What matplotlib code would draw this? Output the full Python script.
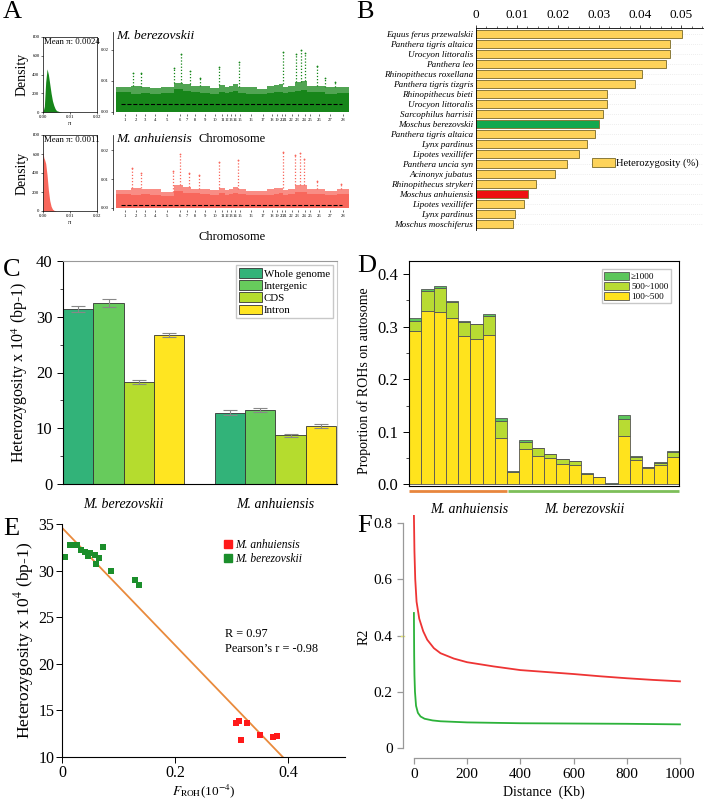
import matplotlib
matplotlib.use('Agg')
import matplotlib.pyplot as plt
from matplotlib.patches import Patch
from matplotlib.lines import Line2D
from matplotlib.ticker import MultipleLocator

plt.rcParams['font.family'] = ['Liberation Serif', 'DejaVu Serif']
plt.rcParams['mathtext.fontset'] = 'stix'

# ---------------- data ----------------
# A: nucleotide diversity density (pi, density)
dens_ber_x = [0.0, 0.0005, 0.001, 0.0015, 0.002, 0.0025, 0.003, 0.0035, 0.004, 0.0045, 0.005, 0.006, 0.007]
dens_ber_y = [0, 60, 320, 460, 400, 300, 200, 120, 70, 35, 15, 5, 0]
dens_anh_x = [0.0, 0.0003, 0.0006, 0.001, 0.0015, 0.002, 0.0025, 0.003, 0.0035, 0.004, 0.005]
dens_anh_y = [620, 560, 540, 500, 380, 220, 110, 50, 20, 8, 0]
mean_pi_ber = 0.0024
mean_pi_anh = 0.0011

# A: chromosome midpoints along the genome (Mb) and window pi
chrom_labels = [str(i) for i in range(1, 29)]
chrom_mid = [99, 231, 330, 440, 572, 715, 792, 880, 990, 1100, 1188, 1243, 1287, 1331,
             1386, 1507, 1639, 1738, 1793, 1848, 1881, 1958, 2024, 2101, 2167, 2266, 2387, 2530]
genome_end = 2596
ber_band = [0.0062, 0.0058, 0.0060, 0.0057, 0.0060, 0.0072, 0.0065, 0.0062, 0.0060, 0.0058,
            0.0064, 0.0060, 0.0062, 0.0066, 0.0060, 0.0058, 0.0057, 0.0060, 0.0062, 0.0064,
            0.0060, 0.0062, 0.0068, 0.0070, 0.0062, 0.0062, 0.0058, 0.0060]
ber_upper = [0.0078, 0.0082, 0.0080, 0.0075, 0.0078, 0.0092, 0.0088, 0.0084, 0.0082, 0.0076,
             0.0086, 0.0080, 0.0082, 0.0088, 0.0080, 0.0078, 0.0074, 0.0082, 0.0086, 0.0088,
             0.0080, 0.0084, 0.0095, 0.0098, 0.0084, 0.0084, 0.0078, 0.0080]
anh_band = [0.0048, 0.0046, 0.0047, 0.0045, 0.0040, 0.0058, 0.0052, 0.0050, 0.0048, 0.0046,
            0.0050, 0.0046, 0.0048, 0.0052, 0.0047, 0.0045, 0.0044, 0.0046, 0.0048, 0.0050,
            0.0046, 0.0048, 0.0055, 0.0056, 0.0048, 0.0047, 0.0045, 0.0048]
anh_upper = [0.0062, 0.0068, 0.0064, 0.0066, 0.0055, 0.0078, 0.0072, 0.0066, 0.0064, 0.0062,
             0.0070, 0.0062, 0.0064, 0.0072, 0.0066, 0.0060, 0.0060, 0.0064, 0.0068, 0.0070,
             0.0062, 0.0066, 0.0078, 0.0080, 0.0066, 0.0064, 0.0060, 0.0064]
ber_peak_pos = [187, 286, 649, 726, 825, 935, 1144, 1375, 1859, 2002, 2057, 2101, 2244, 2332, 2442]
ber_peak_val = [0.0124, 0.0124, 0.0140, 0.0187, 0.0130, 0.0110, 0.0146, 0.0160, 0.0193,
                0.0187, 0.0198, 0.0190, 0.0149, 0.0110, 0.0097]
anh_peak_pos = [176, 278, 638, 718, 814, 932, 1144, 1364, 1859, 1991, 2046, 2090, 2244, 2508]
anh_peak_val = [0.0138, 0.0123, 0.0129, 0.0186, 0.0123, 0.0114, 0.0158, 0.0166, 0.0194,
                0.0183, 0.0192, 0.0169, 0.0095, 0.0083]

# B: genome-wide heterozygosity (%)
b_species = ['Equus ferus przewalskii', 'Panthera tigris altaica', 'Urocyon littoralis',
             'Panthera leo', 'Rhinopithecus roxellana', 'Panthera tigris tizgris',
             'Rhinopithecus bieti', 'Urocyon littoralis', 'Sarcophilus harrisii',
             'Moschus berezovskii', 'Panthera tigris altaica', 'Lynx pardinus',
             'Lipotes vexillifer', 'Panthera uncia syn', 'Acinonyx jubatus',
             'Rhinopithecus strykeri', 'Moschus anhuiensis', 'Lipotes vexillifer',
             'Lynx pardinus', 'Moschus moschiferus']
b_het = [0.0502, 0.0473, 0.0473, 0.0464, 0.0405, 0.0387, 0.0319, 0.0319, 0.0310, 0.0300,
         0.0290, 0.0271, 0.0251, 0.0222, 0.0193, 0.0145, 0.0127, 0.0116, 0.0096, 0.0089]

# C: heterozygosity by region
c_groups = ['M. berezovskii', 'M. anhuiensis']
c_regions = ['Whole genome', 'Intergenic', 'CDS', 'Intron']
c_ber = [31.4, 32.4, 18.3, 26.7]
c_ber_err = [0.6, 0.7, 0.4, 0.4]
c_anh = [12.8, 13.3, 8.7, 10.4]
c_anh_err = [0.4, 0.4, 0.2, 0.4]

# D: proportion of ROHs by length class (kb) per individual
d_labels = ['100~500', '500~1000', '\u22651000']
d_short = [0.292, 0.330, 0.328, 0.317, 0.282, 0.277, 0.285, 0.089, 0.024, 0.068, 0.055,
           0.051, 0.039, 0.037, 0.020, 0.014, 0.001, 0.093, 0.047, 0.031, 0.036, 0.052]
d_mid = [0.019, 0.038, 0.046, 0.030, 0.027, 0.028, 0.036, 0.032, 0.000, 0.013, 0.014,
         0.006, 0.009, 0.007, 0.000, 0.000, 0.000, 0.032, 0.006, 0.002, 0.005, 0.010]
d_long = [0.005, 0.003, 0.004, 0.002, 0.002, 0.001, 0.004, 0.006, 0.001, 0.003, 0.001,
          0.001, 0.001, 0.001, 0.001, 0.001, 0.0015, 0.008, 0.002, 0.001, 0.001, 0.001]
d_n_anh = 8

# E: FROH vs heterozygosity
e_ber_x = [0.005, 0.015, 0.021, 0.027, 0.034, 0.040, 0.046, 0.050, 0.058, 0.060, 0.066, 0.073, 0.086, 0.129, 0.136]
e_ber_y = [31.5, 32.7, 32.8, 32.8, 32.2, 32.0, 31.6, 31.9, 31.7, 30.7, 31.4, 32.5, 30.0, 29.0, 28.5]
e_anh_x = [0.308, 0.312, 0.316, 0.327, 0.350, 0.372, 0.379]
e_anh_y = [13.6, 13.9, 11.8, 13.7, 12.4, 12.1, 12.3]
e_fit_x = [0.0, 0.39]
e_fit_y = [34.6, 10.0]

# F: LD decay
f_anh_kb = [0, 2, 5, 10, 20, 35, 50, 75, 100, 150, 200, 300, 400, 500, 600, 700, 800, 900, 1000]
f_anh_r2 = [0.83, 0.70, 0.60, 0.52, 0.46, 0.415, 0.385, 0.355, 0.337, 0.318, 0.305, 0.29,
            0.277, 0.27, 0.263, 0.255, 0.248, 0.242, 0.237]
f_ber_kb = [0, 1, 2, 4, 8, 15, 25, 40, 70, 100, 200, 400, 600, 800, 1000]
f_ber_r2 = [0.48, 0.33, 0.26, 0.20, 0.15, 0.125, 0.112, 0.104, 0.098, 0.095, 0.091, 0.088,
            0.087, 0.086, 0.084]

# ---------------- figure ----------------
W, H = 709, 802
fig = plt.figure(figsize=(W / 100, H / 100), dpi=100)


def box(x0, y0, x1, y1):
    return [x0 / W, 1 - y1 / H, (x1 - x0) / W, (y1 - y0) / H]


def panel_label(letter, x, y):
    fig.text(x / W, 1 - y / H, letter, fontsize=19, va='center', ha='left')


GREEN_A = '#17861a'
RED_A = '#f8675c'

# ---- A: density plots ----
for (dx, dy, col, mpi, y0, y1) in [(dens_ber_x, dens_ber_y, GREEN_A, mean_pi_ber, 37, 112),
                                   (dens_anh_x, dens_anh_y, RED_A, mean_pi_anh, 135, 211)]:
    ax = fig.add_axes(box(43, y0, 97, y1))
    ax.fill_between(dx, dy, color=col, lw=0)
    ax.set_xlim(0, 0.02)
    ax.set_ylim(0, 800)
    ax.set_xticks([0, 0.01, 0.02])
    ax.set_xticklabels(['0.00', '0.01', '0.02'])
    ax.set_yticks([0, 200, 400, 600, 800])
    ax.tick_params(labelsize=3.5, length=1.5, width=0.4, pad=1)
    for s in ax.spines.values():
        s.set_linewidth(0.5)
    ax.set_xlabel('\u03c0', fontsize=4.5, labelpad=1)
    ax.set_ylabel('Density', fontsize=10, labelpad=3)
    ax.text(0.02, 0.985, 'Mean \u03c0: %.4f' % mpi, transform=ax.transAxes,
            fontsize=6.3, va='top', ha='left')

# ---- A: manhattan-like plots ----
edges = [0] + [(chrom_mid[i] + chrom_mid[i + 1]) / 2 for i in range(len(chrom_mid) - 1)] + [genome_end]
widths = [edges[i + 1] - edges[i] for i in range(len(chrom_mid))]


def band_at(pos, band):
    for i in range(len(chrom_mid)):
        if edges[i] <= pos < edges[i + 1]:
            return band[i]
    return band[-1]


for (band, upper, ppos, pval, col, mpi, y0, y1, title, yl) in [
        (ber_band, ber_upper, ber_peak_pos, ber_peak_val, GREEN_A, mean_pi_ber, 32, 114,
         'M. berezovskii', 0.0258),
        (anh_band, anh_upper, anh_peak_pos, anh_peak_val, RED_A, mean_pi_anh, 135, 210,
         'M. anhuiensis', 0.0254)]:
    ax = fig.add_axes(box(113, y0, 349, y1))
    ax.bar(edges[:-1], upper, width=widths, align='edge', color=col, lw=0, alpha=0.75)
    ax.bar(edges[:-1], band, width=widths, align='edge', color=col, lw=0, bottom=0)
    for p, v in zip(ppos, pval):
        b = band_at(p, upper)
        ax.vlines(p, b, v, colors=col, linestyles=(0, (1, 1.5)), lw=0.9)
        ax.plot([p], [v], 'o', ms=1.3, color=col, mew=0)
    ax.hlines(mpi, 60, 2520, colors='black', linestyles='--', lw=0.8)
    ax.set_xlim(-30, genome_end)
    ax.set_ylim(-0.0008, yl)
    ax.set_xticks(chrom_mid)
    ax.set_xticklabels(chrom_labels)
    ax.set_yticks([0, 0.01, 0.02])
    ax.set_yticklabels(['0.00', '0.01', '0.02'])
    ax.tick_params(labelsize=3.3, length=1.5, width=0.4, pad=1.5)
    for s in ['top', 'right', 'bottom']:
        ax.spines[s].set_visible(False)
    ax.spines['left'].set_linewidth(0.5)
    fig.text(116 / W, 1 - (y0 + 4) / H, title, fontsize=9.7, style='italic', va='center')

fig.text(232 / W, 1 - 139 / H, 'Chromosome', fontsize=9, ha='center', va='center')
fig.text(232 / W, 1 - 237 / H, 'Chromosome', fontsize=9, ha='center', va='center')

# ---- B: heterozygosity comparison ----
axb = fig.add_axes(box(476, 28, 703, 230))
b_colors = ['#fdd35a'] * len(b_species)
b_colors[b_species.index('Moschus berezovskii')] = '#12a84e'
b_colors[b_species.index('Moschus anhuiensis')] = '#ee1111'
ypos = list(range(len(b_species)))
for y in ypos:
    axb.axhline(y, color='#dddddd', lw=0.5, ls=(0, (1, 2)), zorder=0)
axb.barh(ypos, b_het, height=0.8, color=b_colors, edgecolor='#8a7a3a', lw=0.7, zorder=2)
axb.set_ylim(19.6, -0.6)
axb.set_xlim(0, 0.0553)
axb.xaxis.tick_top()
axb.set_xticks([0, 0.01, 0.02, 0.03, 0.04, 0.05])
axb.set_xticklabels(['0', '0.01', '0.02', '0.03', '0.04', '0.05'])
axb.xaxis.set_minor_locator(MultipleLocator(0.0025))
axb.tick_params(axis='x', labelsize=9.5, length=2, width=0.5, pad=3)
axb.tick_params(axis='x', which='minor', length=1.5, width=0.4)
axb.set_yticks(ypos)
axb.set_yticklabels(b_species, fontsize=6.6, style='italic')
axb.tick_params(axis='y', length=0, pad=2)
for s in ['right', 'bottom']:
    axb.spines[s].set_visible(False)
axb.spines['top'].set_linewidth(0.6)
axb.spines['left'].set_linewidth(0.6)
axb.legend(handles=[Patch(facecolor='#fdd35a', edgecolor='#8a7a3a', lw=0.7)],
           labels=['Heterozygosity (%)'], loc='center left', bbox_to_anchor=(0.51, 0.33),
           frameon=False, fontsize=7.6, handlelength=2.2, handleheight=0.9,
           handletextpad=0.1, borderpad=0, borderaxespad=0)

# ---- C: heterozygosity by region ----
axc = fig.add_axes(box(63, 261, 337, 484))
c_colors = ['#32b379', '#67cb5c', '#b5dc2e', '#ffe521']
for i in range(4):
    axc.bar([0.5 + i, 5.5 + i], [c_ber[i], c_anh[i]], width=1,
            yerr=[c_ber_err[i], c_anh_err[i]], color=c_colors[i], edgecolor='#333333', lw=0.6,
            error_kw=dict(ecolor='#888888', elinewidth=0.8, capsize=5, capthick=0.8),
            label=c_regions[i])
axc.set_xlim(0, 9.03)
axc.set_ylim(0, 40)
axc.set_xticks([2, 7])
axc.set_xticklabels(c_groups, style='italic', fontsize=10)
axc.tick_params(axis='x', length=0, pad=10)
axc.set_yticks([0, 10, 20, 30, 40])
axc.yaxis.set_minor_locator(MultipleLocator(5))
axc.tick_params(axis='y', labelsize=12, length=4, width=0.7)
axc.tick_params(axis='y', which='minor', length=2, width=0.5)
axc.set_ylabel('Heterozygosity x 10$^4$ (bp-1)', fontsize=11.5, labelpad=4)
axc.spines['top'].set_color('#999999')
axc.spines['right'].set_color('#cccccc')
axc.legend(loc='upper right', fontsize=7.8, frameon=True, fancybox=False, edgecolor='#bbbbbb',
           handlelength=2.1, handleheight=1.0, labelspacing=0.15, borderpad=0.25,
           handletextpad=0.2, borderaxespad=0.4)

# ---- D: ROH proportion ----
axd = fig.add_axes(box(409, 261, 679, 486))
d_colors = ['#ffe31d', '#b8db33', '#5cc65b']
xs = list(range(len(d_short)))
bottom2 = [a + b for a, b in zip(d_short, d_mid)]
axd.bar(xs, d_short, width=1, color=d_colors[0], edgecolor='#555555', lw=0.6, label=d_labels[0])
axd.bar(xs, d_mid, width=1, bottom=d_short, color=d_colors[1], edgecolor='#555555', lw=0.6, label=d_labels[1])
axd.bar(xs, d_long, width=1, bottom=bottom2, color=d_colors[2], edgecolor='#555555', lw=0.6, label=d_labels[2])
axd.set_xlim(-0.5, len(xs) - 0.5)
axd.set_ylim(-0.003, 0.425)
axd.set_xticks([])
axd.set_yticks([0, 0.1, 0.2, 0.3, 0.4])
axd.set_yticklabels(['0.0', '0.1', '0.2', '0.3', '0.4'])
axd.yaxis.set_minor_locator(MultipleLocator(0.05))
axd.tick_params(axis='y', labelsize=12, length=4, width=0.7)
axd.tick_params(axis='y', which='minor', length=2, width=0.5)
axd.set_ylabel('Proportion of ROHs on autosome', fontsize=10, labelpad=5, y=0.47)
h, l = axd.get_legend_handles_labels()
axd.legend(h[::-1], l[::-1], loc='upper right', fontsize=6.6, frameon=True, fancybox=False,
           edgecolor='#bbbbbb', handlelength=2.7, handleheight=1.0, labelspacing=0.1,
           borderpad=0.25, handletextpad=0.2, borderaxespad=0.9)
axd.plot([-0.5, d_n_anh - 0.55], [-0.012, -0.012], color='#e8863d', lw=2, clip_on=False,
         solid_capstyle='butt')
axd.plot([d_n_anh - 0.45, len(xs) - 0.5], [-0.012, -0.012], color='#7dbf59', lw=2,
         clip_on=False, solid_capstyle='butt')
axd.text(4.4, -0.047, 'M. anhuiensis', style='italic', fontsize=10, ha='center', va='center')
axd.text(13.8, -0.047, 'M. berezovskii', style='italic', fontsize=10, ha='center', va='center')

# ---- E: FROH vs heterozygosity ----
axe = fig.add_axes(box(62, 524, 345, 757))
axe.plot(e_fit_x, e_fit_y, color='#e98a3c', lw=1.3, zorder=1)
axe.scatter(e_ber_x, e_ber_y, marker='s', s=16, color='#1b8e2b', lw=0, zorder=2)
axe.scatter(e_anh_x, e_anh_y, marker='s', s=16, color='#ff1a1a', lw=0, zorder=2)
axe.set_xlim(0, 0.5)
axe.set_ylim(10, 35)
axe.set_xticks([0, 0.2, 0.4])
axe.set_xticklabels(['0', '0.2', '0.4'])
axe.set_yticks([10, 15, 20, 25, 30, 35])
axe.tick_params(labelsize=11.5, length=4, width=0.7, pad=1.5)
for s in ['top', 'right']:
    axe.spines[s].set_visible(False)
axe.set_xlabel('$F_{\\mathrm{ROH}}$(10$^{-4}$)', fontsize=9.5, labelpad=1)
axe.set_ylabel('Heterozygosity x 10$^4$ (bp-1)', fontsize=12.5, labelpad=2)
axe.legend(handles=[Line2D([], [], marker='s', ls='', color='#ff1a1a', ms=6),
                    Line2D([], [], marker='s', ls='', color='#1b8e2b', ms=6)],
           labels=['M. anhuiensis', 'M. berezovskii'], loc='upper left',
           bbox_to_anchor=(0.53, 0.98), frameon=False, prop={'style': 'italic', 'size': 8.3},
           handletextpad=0.1, labelspacing=0.2, handlelength=1.0)
axe.text(0.288, 22.4, 'R = 0.97\nPearson\u2019s r = -0.98', fontsize=8.8, va='center',
         linespacing=1.3)

# ---- F: LD decay ----
axf = fig.add_axes(box(403, 515, 685, 758))
axf.plot(f_anh_kb, f_anh_r2, color='#ee3434', lw=1.3)
axf.plot(f_ber_kb, f_ber_r2, color='#2cb23a', lw=1.3)
axf.set_xlim(-41, 1019)
axf.set_ylim(-0.0356, 0.8285)
for s in ['top', 'right']:
    axf.spines[s].set_visible(False)
axf.spines['left'].set_bounds(0, 0.8)
axf.spines['bottom'].set_bounds(0, 1000)
for s in ['left', 'bottom']:
    axf.spines[s].set_color('#999999')
    axf.spines[s].set_linewidth(0.9)
axf.set_xticks([0, 200, 400, 600, 800, 1000])
axf.set_yticks([0, 0.2, 0.4, 0.6, 0.8])
axf.set_yticklabels(['0', '0.2', '0.4', '0.6', '0.8'])
axf.tick_params(labelsize=11, length=4, width=0.9, color='#999999')
axf.plot([-50, -36], [0.4, 0.4], color='#e8e86a', lw=1, clip_on=False)
axf.set_xlabel('Distance  (Kb)', fontsize=10, labelpad=3)
axf.set_ylabel('R2', fontsize=10, labelpad=2)

panel_label('A', 3, 12)
panel_label('B', 356, 12)
panel_label('C', 3, 270)
panel_label('D', 357, 266)
panel_label('E', 3, 529)
panel_label('F', 357, 526)

fig.savefig('out.png', dpi=100)
